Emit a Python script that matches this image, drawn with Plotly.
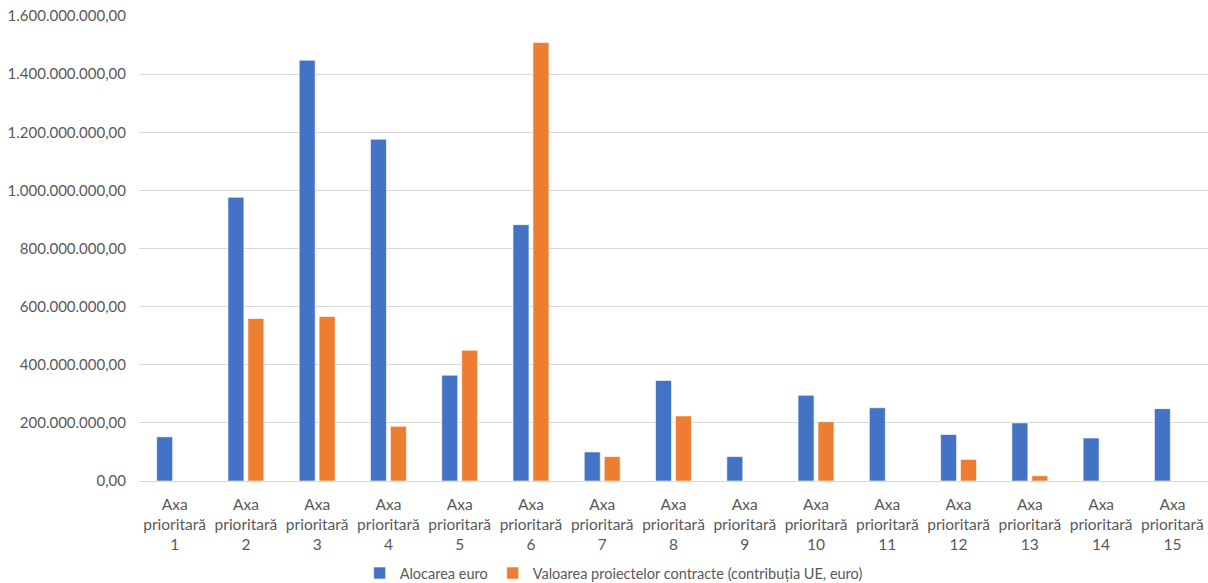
import plotly.graph_objects as go

categories = [f"Axa<br>prioritară<br>{i}" for i in range(1, 16)]

alocare_euro = [
    152e6, 976e6, 1448e6, 1176e6, 364e6, 882e6, 100e6, 346e6,
    84e6, 295e6, 252e6, 160e6, 200e6, 148e6, 249e6,
]
valoare_contracte = [
    0, 559e6, 566e6, 188e6, 450e6, 1509e6, 84e6, 224e6,
    0, 204e6, 0, 74e6, 18e6, 0, 0,
]

series_names = [
    "Alocarea euro",
    "Valoarea proiectelor contracte (contribuția UE, euro)",
]
colors = ["#4472C4", "#ED7D31"]

y_ticks = [0, 200e6, 400e6, 600e6, 800e6, 1000e6, 1200e6, 1400e6, 1600e6]

fig = go.Figure()
for name, vals, col in zip(series_names, [alocare_euro, valoare_contracte], colors):
    fig.add_trace(go.Bar(
        x=categories, y=vals, name=name,
        marker=dict(color=col, line=dict(color="rgba(255,255,255,0.6)", width=1)),
    ))

font_family = "Lato, 'Open Sans', sans-serif"
fig.update_layout(
    width=1208, height=583,
    margin=dict(l=139, r=0, t=16, b=102, autoexpand=False),
    paper_bgcolor="white", plot_bgcolor="white",
    separators=",.",
    barmode="group", bargap=0.44, bargroupgap=0.2,
    font=dict(family=font_family, size=15, color="#595959"),
    showlegend=True,
    legend=dict(orientation="h", xref="container", yref="container",
                x=0.508, xanchor="center", y=0.017, yanchor="middle",
                font=dict(size=14.5, color="#595959"), itemwidth=30,
                traceorder="normal"),
    xaxis=dict(showgrid=False, showline=False, ticks="", tickfont=dict(size=15.5),
               tickangle=0, ticklabelstandoff=12),
    yaxis=dict(range=[0, 1600e6], tickvals=y_ticks, tickformat=",.2f",
               showgrid=True, gridcolor="#D9D9D9", gridwidth=1,
               zeroline=True, zerolinecolor="#D9D9D9", zerolinewidth=1,
               showline=False, ticks="", ticklabelstandoff=12),
)

fig.write_html("out.html")
